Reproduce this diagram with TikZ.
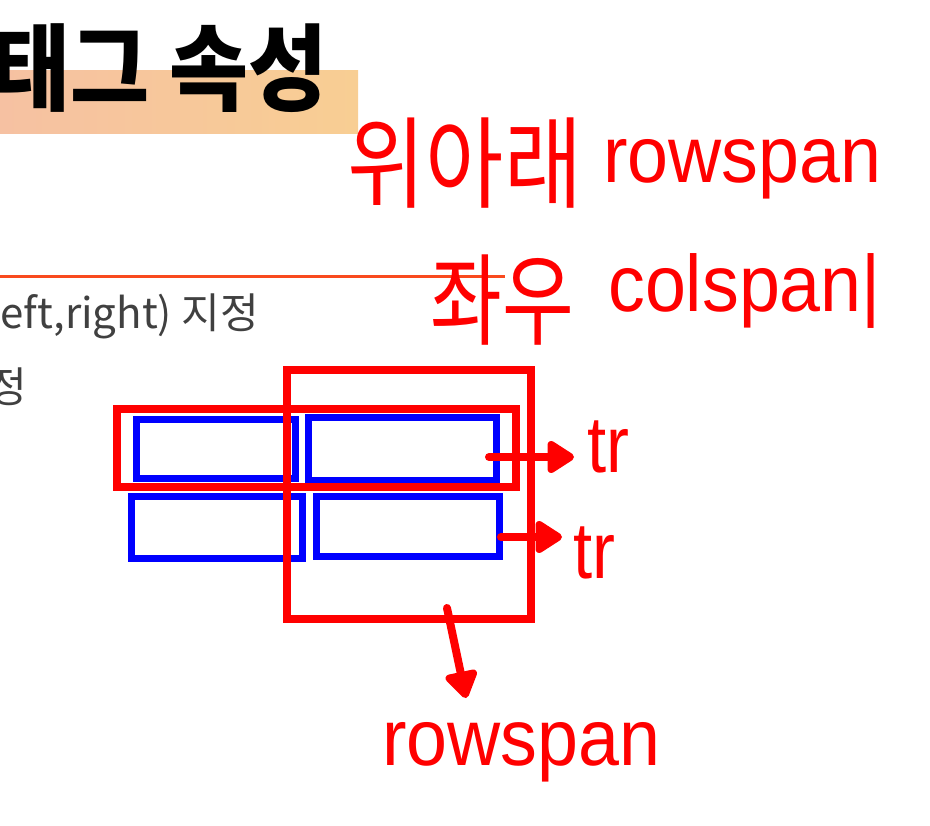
\documentclass[tikz,border=0pt]{standalone}
\usepackage{fontspec}
\setmainfont{Liberation Sans}
\newfontfamily\kr{Noto Sans CJK KR}
\usetikzlibrary{arrows.meta}
\definecolor{barL}{HTML}{F6C1A2}
\definecolor{barR}{HTML}{F8CE93}
\definecolor{rulec}{HTML}{F94A1E}
\definecolor{graytxt}{HTML}{404040}
\definecolor{pred}{HTML}{FF0000}
\definecolor{pblue}{HTML}{0000FF}
\tikzset{
  bluebox/.style={draw=pblue, line width=7.5pt, inner sep=0pt, minimum width=#1},
  redbox/.style={draw=pred, line width=8.5pt, inner sep=0pt, minimum width=#1},
  arr/.style={draw=pred, line width=8pt, line cap=round, -{Triangle[length=30pt,width=36pt,round]}},
  latin/.style={text=pred, inner sep=0pt, anchor=base west, font=\fontsize{80}{90}\selectfont},
  hand/.style={text=pred, inner sep=0pt, font=\kr\fontsize{100}{110}\selectfont},
  gtext/.style={text=graytxt, inner sep=0pt, anchor=base east, font=\kr\fontsize{42}{46}\selectfont}
}
\begin{document}
\begin{tikzpicture}[x=1pt,y=-1pt]
\useasboundingbox (0,0) rectangle (930,826);
\clip (0,0) rectangle (930,826);
% title bar
\node (bar) [left color=barL, right color=barR, minimum width=358pt, minimum height=63pt, inner sep=0pt, anchor=north west] at (0,70) {};
\node (title) [anchor=base east, inner sep=0pt, font=\kr\bfseries\fontsize{86}{100}\selectfont] at (328,104) {\scalebox{1}[1.1]{태그 속성}};
% rule
\draw[rulec, line width=3pt] (0,277) -- (505,277);
% gray text
\node (t1) [gtext] at (259,329) {eft,right) 지정};
\node (t2) [gtext] at (27,403) {정};
% blue cells
\node (b1) [bluebox=159pt, minimum height=59pt] at (216,449) {};
\node (b2) [bluebox=188pt, minimum height=63pt] at (402.5,449) {};
\node (b3) [bluebox=171pt, minimum height=62pt] at (217,527.5) {};
\node (b4) [bluebox=183pt, minimum height=60pt] at (408,526.5) {};
% red frames
\node (rw) [redbox=399pt, minimum height=78pt] at (316.5,448) {};
\node (rt) [redbox=244pt, minimum height=249pt] at (409,494.5) {};
% handwriting
\node (ud) [hand] at (465,163) {\scalebox{0.85}[1]{위아래}};
\node (lr) [hand] at (502,300) {\scalebox{0.78}[1]{좌우}};
% labels
\node (rs1) [latin] at (603,183) {\scalebox{0.92}[1]{rowspan}};
\node (cs) [latin] at (608,312) {\scalebox{0.92}[1]{colspan|}};
\node (tr1) [latin] at (587,473) {\scalebox{0.86}[1]{tr}};
\node (tr2) [latin] at (573,578) {\scalebox{0.86}[1]{tr}};
\node (rs2) [latin] at (382,765) {\scalebox{0.92}[1]{rowspan}};
% arrows
\coordinate (a1s) at (489,457);
\coordinate (a2s) at (501,537);
\coordinate (a3s) at (447,608);
\coordinate (a3e) at (466,698);
\draw[arr, shorten >=13pt] (a1s) -- (a1s -| tr1.west);
\draw[arr, shorten >=11pt] (a2s) -- (a2s -| tr2.west);
\draw[arr] (a3s) -- (a3e);
\end{tikzpicture}
\end{document}
